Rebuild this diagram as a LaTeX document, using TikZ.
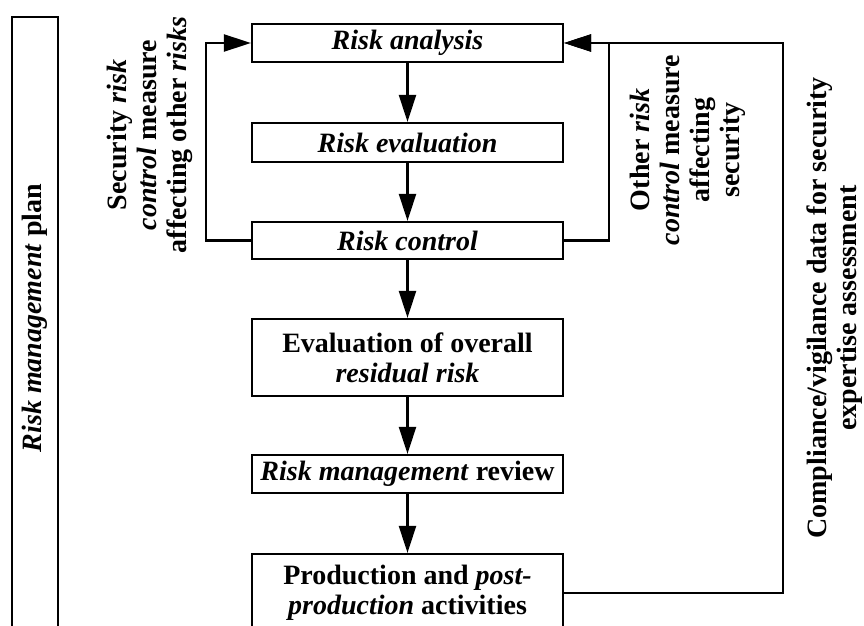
\documentclass[tikz,border=0pt]{standalone}
\usepackage{fontspec}
\setmainfont{Liberation Serif}
\usetikzlibrary{arrows.meta}

\tikzset{
    caja/.style={draw, line width=1.1pt, inner sep=0pt, align=center,
        minimum width=155.5pt, font=\bfseries\fontsize{14}{15}\selectfont},
    texto/.style={rotate=90, inner sep=0pt, align=center,
        font=\bfseries\fontsize{14}{15}\selectfont},
    flecha/.style={line width=1.1pt, -{Triangle[length=13.5pt, width=8.5pt]}},
    linea/.style={line width=1.1pt}
}

\begin{document}
\begin{tikzpicture}[x=0.5pt, y=-0.5pt]
    \useasboundingbox (0,0) rectangle (864,626);
    \clip (0,0) rectangle (864,626);

    % Plan de gestión
    \draw[linea] (12,17) rectangle (58,680);
    \node[texto] (plan) at (35,318) {\textit{Risk management} plan};

    % Cajas del proceso
    \node[caja, minimum height=19pt] (ana) at (407.5,43) {\textit{Risk analysis}};
    \node[caja, minimum height=19.5pt] (eva) at (407.5,142.5) {\textit{Risk evaluation}};
    \node[caja, minimum height=18.5pt] (con) at (407.5,240.5) {\textit{Risk control}};
    \node[caja, minimum height=38.5pt] (res) at (407.5,357.5) {Evaluation of overall\\ \textit{residual risk}};
    \node[caja, minimum height=19pt] (rev) at (407.5,474) {\textit{Risk management} review};
    \node[caja, minimum height=39pt] (pro) at (407.5,593) {Production and \textit{post-}\\ \textit{production} activities};

    % Flechas verticales
    \draw[flecha] (ana) -- (eva);
    \draw[flecha] (eva) -- (con);
    \draw[flecha] (con) -- (res);
    \draw[flecha] (res) -- (rev);
    \draw[flecha] (rev) -- (pro);

    % Lazos de retorno
    \draw[flecha] (con.west) -- ++(-45,0) |- (ana.west);
    \draw[flecha] (con.east) -- ++(45,0) |- (ana.east);
    \draw[flecha] (pro.east) -- ++(219,0) |- (ana.east);

    % Etiquetas
    \node[texto] (seg) at (150,135) {Security \textit{risk}\\ \textit{control} measure\\ affecting other \textit{risks}};
    \node[texto] (otr) at (688,150) {Other \textit{risk}\\ \textit{control} measure\\ affecting\\ security};
    \node[texto] (cum) at (835,308) {Compliance/vigilance data for security\\ expertise assessment};
\end{tikzpicture}
\end{document}
